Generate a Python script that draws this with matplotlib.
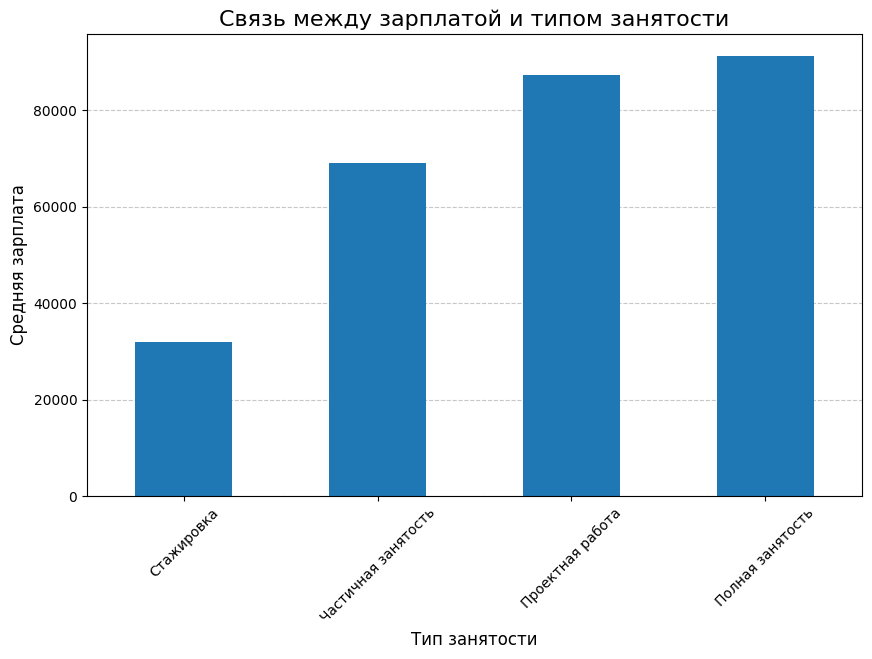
import matplotlib
matplotlib.use("Agg")
import matplotlib.pyplot as plt

categories = ["Стажировка", "Частичная занятость", "Проектная работа", "Полная занятость"]
salaries = [31900, 69000, 87300, 91200]

fig = plt.figure(figsize=(8.72, 6.59), dpi=100)
ax = fig.add_axes([0.0998, 0.2473, 0.8887, 0.7011])
x = range(len(categories))
ax.bar(x, salaries, width=0.5, color="#1f77b4", zorder=2)
ax.set_xticks(list(x))
ax.set_xticklabels(categories, rotation=45)
ax.set_xlim(-0.5, len(categories) - 0.5)
ax.set_ylim(0, max(salaries) * 1.05)
ax.grid(axis="y", linestyle="--", alpha=0.7, zorder=0)
ax.set_title("Связь между зарплатой и типом занятости", fontsize=16)
ax.set_xlabel("Тип занятости", fontsize=12)
ax.set_ylabel("Средняя зарплата", fontsize=12)
fig.savefig("out.png", dpi=100)
